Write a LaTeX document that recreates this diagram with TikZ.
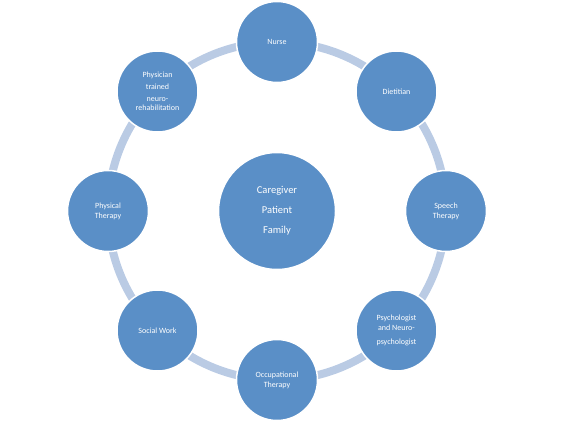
\documentclass[tikz,border=0pt]{standalone}
\usepackage{fontspec}
\setmainfont{Carlito}
\definecolor{satblue}{HTML}{5A8FC7}
\definecolor{ringcol}{HTML}{BACBE4}
\begin{document}
\begin{tikzpicture}[x=1pt,y=-1pt,
  sat/.style={circle, fill=satblue, draw=white, line width=1.5pt, minimum size=81pt, inner sep=0pt,
    text=white, align=center, font=\fontsize{8}{10}\selectfont},
  hub/.style={sat, minimum size=117pt, font=\fontsize{10.5}{20}\selectfont},
  ring/.style={draw=ringcol, line width=8pt}]
\useasboundingbox (0,0) rectangle (561,422);
\node[hub, draw=none, fill=none] (hubpos) at (277,211) {};
\draw[ring] (hubpos.center) circle (169pt);
\node[hub] (hub) at (277,211) {Caregiver\\Patient\\Family};
\node[sat] (nurse) at (277,42) {Nurse};
\node[sat] (diet) at (396.5,91.5) {Dietitian};
\node[sat] (speech) at (446,211) {Speech\\Therapy};
\node[sat] (psych) at (396.5,330.5) {Psychologist\\and Neuro-\\[4pt]psychologist};
\node[sat] (occ) at (277,380) {Occupational\\Therapy};
\node[sat] (social) at (157.5,330.5) {Social Work};
\node[sat] (phys) at (108,211) {Physical\\Therapy};
\node[sat, font=\fontsize{8}{12}\selectfont] (physician) at (157.5,91.5) {Physician\\trained\\neuro-\\[-3pt]rehabilitation};
\end{tikzpicture}
\end{document}
